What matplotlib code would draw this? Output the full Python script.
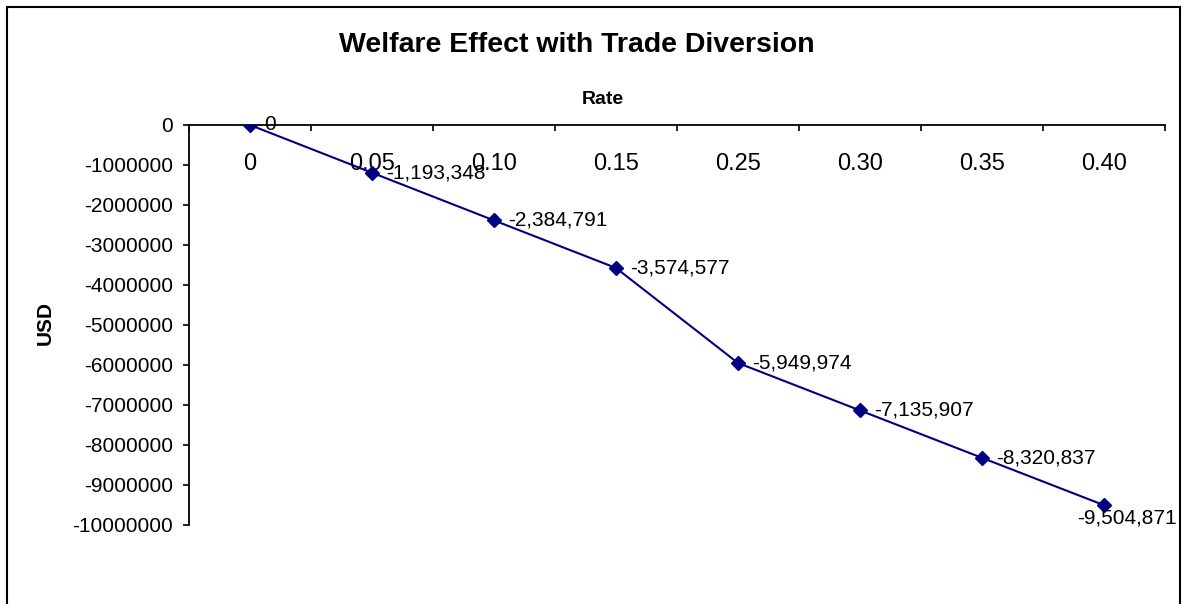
import matplotlib
matplotlib.use("Agg")
import matplotlib.pyplot as plt
from matplotlib.patches import Rectangle
from matplotlib.ticker import FixedLocator, FuncFormatter, NullFormatter

plt.rcParams['font.family'] = ['Liberation Sans', 'DejaVu Sans']

# data
rates = ['0', '0.05', '0.10', '0.15', '0.25', '0.30', '0.35', '0.40']
welfare = [0, -1193348, -2384791, -3574577, -5949974, -7135907, -8320837, -9504871]
value_labels = ['0', '-1,193,348', '-2,384,791', '-3,574,577', '-5,949,974',
                '-7,135,907', '-8,320,837', '-9,504,871']

W, H = 1184, 604
fig = plt.figure(figsize=(W / 100, H / 100), dpi=100)
ax = fig.add_axes([189 / W, 1 - 525 / H, (1165 - 189) / W, 400 / H])

xs = list(range(len(rates)))
ax.plot(xs, welfare, color='#000080', lw=1.5, marker='D', markersize=7.5,
        markerfacecolor='#000080', markeredgecolor='#000080', zorder=3)

# data labels to the right of each point, the last one tucked below
for i, (x, y, lab) in enumerate(zip(xs, welfare, value_labels)):
    if i == len(xs) - 1:
        off = (-19.5, -9.5)
    else:
        off = (10, 0)
    ax.annotate(lab, (x, y), xytext=off, textcoords='offset points',
                ha='left', va='center', fontsize=15, color='black',
                annotation_clip=False)

ax.set_xlim(-0.5, len(rates) - 0.5)
ax.set_ylim(-10000000, 0)

# x axis sits at y = 0 (top of the plot), ticks between categories
ax.spines['bottom'].set_position(('data', 0))
ax.spines['top'].set_visible(False)
ax.spines['right'].set_visible(False)
for s in ('bottom', 'left'):
    ax.spines[s].set_linewidth(1.3)

ax.xaxis.set_major_locator(FixedLocator([i - 0.5 for i in range(len(rates) + 1)]))
ax.xaxis.set_major_formatter(NullFormatter())
ax.xaxis.set_minor_locator(FixedLocator(xs))
ax.set_xticklabels(rates, minor=True)
ax.tick_params(axis='x', which='major', direction='out', length=4.3, width=1.2)
ax.tick_params(axis='x', which='minor', length=0, pad=20, labelsize=17)

ax.yaxis.set_major_locator(FixedLocator(range(-10000000, 1, 1000000)))
ax.yaxis.set_major_formatter(FuncFormatter(lambda v, p: '%d' % v))
ax.tick_params(axis='y', direction='out', length=4.3, width=1.2, pad=7, labelsize=15)

fig.text(577 / W, 1 - 45 / H, 'Welfare Effect with Trade Diversion',
         ha='center', va='center', fontsize=20.5, fontweight='bold')
fig.text(603 / W, 1 - 100 / H, 'Rate', ha='center', va='center',
         fontsize=14, fontweight='bold')
fig.text(45 / W, 1 - 323 / H, 'USD', ha='center', va='center',
         fontsize=15, fontweight='bold', rotation=90)

# chart area border (bottom edge runs off the image)
fig.patches.append(Rectangle((7 / W, -0.1), (1180 - 7) / W, 1.1 - 7 / H,
                             transform=fig.transFigure, fill=False,
                             edgecolor='black', linewidth=1.5))

fig.savefig('out.png', dpi=100)
